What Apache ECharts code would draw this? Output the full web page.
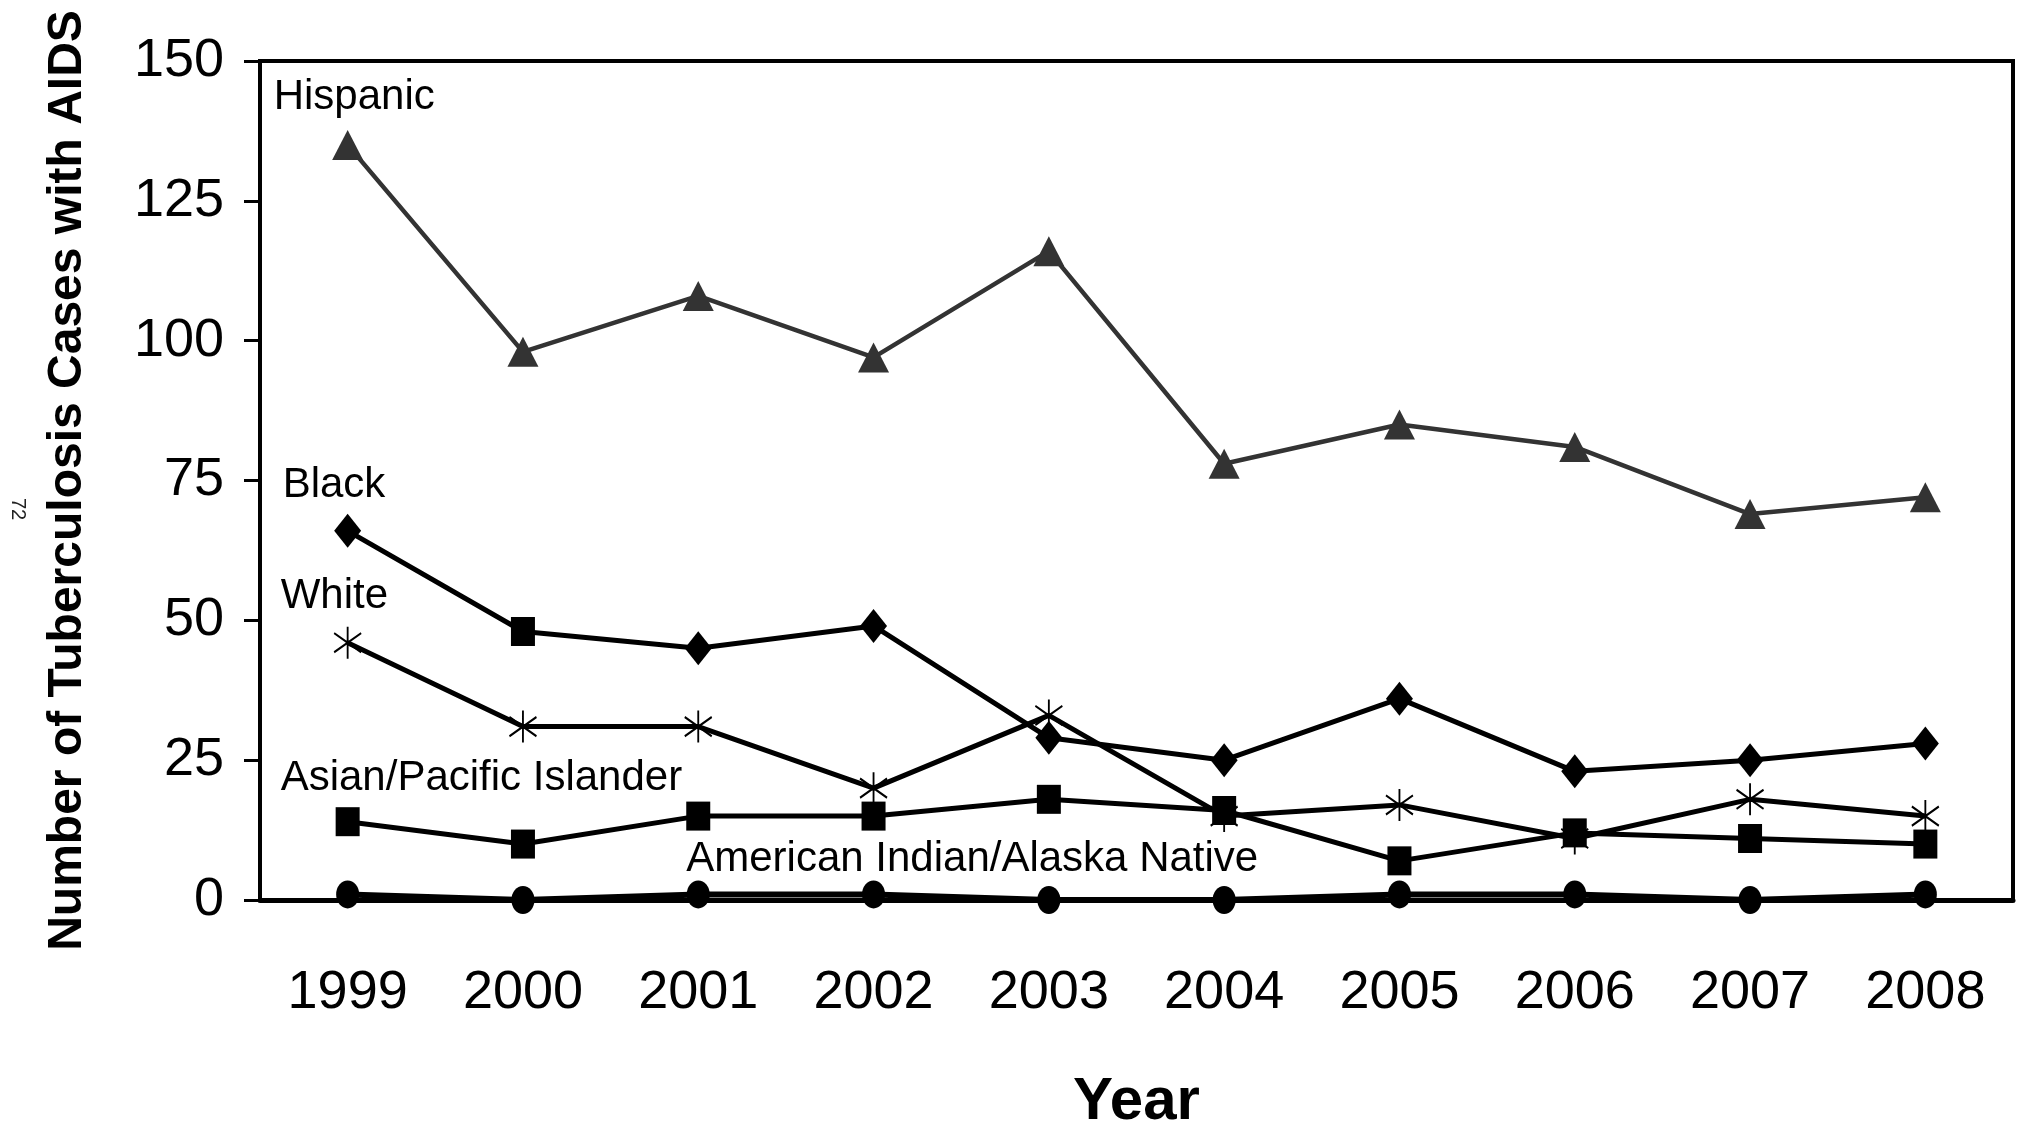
<!DOCTYPE html>
<html>
<head>
<meta charset="utf-8">
<script src="https://cdn.jsdelivr.net/npm/echarts@6/dist/echarts.min.js"></script>
<style>
html,body{margin:0;padding:0;background:#fff;}
#c{width:2022px;height:1124px;}
</style>
</head>
<body>
<div id="c"></div>
<script>
const years = ['1999','2000','2001','2002','2003','2004','2005','2006','2007','2008'];
const hispanic = [135, 98, 108, 97, 116, 78, 85, 81, 69, 72];
const black = [66, 48, 45, 49, 29, 25, 36, 23, 25, 28];
const white = [46, 31, 31, 20, 33, 15, 17, 11, 18, 15];
const asian = [14, 10, 15, 15, 18, 16, 7, 12, 11, 10];
const aian = [1, 0, 1, 1, 0, 0, 1, 1, 0, 1];
const seriesNames = ['Hispanic','Black','White','Asian/Pacific Islander','American Indian/Alaska Native'];
const yMin = 0, yMax = 150, yStep = 25;
const pageNumber = '72';

const SANS = "'Liberation Sans',Arial,sans-serif";
const asterisk = 'path://M5,0L5,10M0,2L10,8M0,8L10,2';

const chart = echarts.init(document.getElementById('c'), null, {renderer:'canvas'});

function lineSeries(name, data, symbol, size, color, width, extra) {
  return Object.assign({
    name: name,
    type: 'line',
    data: data,
    symbol: symbol,
    symbolSize: size,
    showAllSymbol: true,
    lineStyle: {color: color, width: width},
    itemStyle: {color: color},
    emphasis: {disabled: true},
    z: 3
  }, extra || {});
}

const blackData = black.map((v, i) => i === 1 ? {value: v, symbol: 'rect', symbolSize: [24, 29]} : v);

const option = {
  animation: false,
  backgroundColor: '#ffffff',
  grid: {left: 260, right: 9, top: 61, bottom: 224, outerBoundsMode: 'none', containLabel: false,
         show: true, borderColor: '#000', borderWidth: 4, backgroundColor: 'transparent'},
  xAxis: {
    type: 'category',
    data: years,
    boundaryGap: true,
    name: 'Year',
    nameLocation: 'middle',
    nameGap: 172,
    nameTextStyle: {fontFamily: SANS, fontWeight: 'bold', fontSize: 60, color: '#000'},
    axisLine: {lineStyle: {color: '#000', width: 5}},
    axisTick: {show: false},
    axisLabel: {fontFamily: SANS, fontSize: 54, color: '#000', margin: 66}
  },
  yAxis: {
    type: 'value',
    min: yMin, max: yMax, interval: yStep,
    name: 'Number of Tuberculosis Cases with AIDS',
    nameLocation: 'middle',
    nameGap: 168,
    nameTextStyle: {fontFamily: SANS, fontWeight: 'bold', fontSize: 48, color: '#000'},
    axisLine: {show: true, lineStyle: {color: '#000', width: 4}},
    axisTick: {show: true, inside: false, length: 16, lineStyle: {color: '#000', width: 3}},
    axisLabel: {fontFamily: SANS, fontSize: 54, color: '#000', margin: 36},
    splitLine: {show: false}
  },
  series: [
    lineSeries(seriesNames[0], hispanic, 'triangle', [31, 30], '#333333', 4.5),
    lineSeries(seriesNames[1], blackData, 'diamond', [27, 34], '#000000', 5),
    lineSeries(seriesNames[2], white, asterisk, [27, 32], '#000000', 5, {itemStyle: {color: '#000', borderColor: '#000', borderWidth: 2}}),
    lineSeries(seriesNames[3], asian, 'rect', [24, 29], '#000000', 5),
    lineSeries(seriesNames[4], aian, 'circle', [23, 28], '#000000', 6)
  ]
};
chart.setOption(option);

// series name labels placed relative to data points via the chart's own scales
const labelSpecs = [
  {s: 0, i: 0, v: hispanic[0], dx: -74, dy: -47},
  {s: 1, i: 0, v: black[0], dx: -65, dy: -45},
  {s: 2, i: 0, v: white[0], dx: -67, dy: -46},
  {s: 3, i: 0, v: asian[0], dx: -67, dy: -43},
  {s: 4, i: 2, v: aian[2], dx: -12, dy: -35}
];
const graphics = labelSpecs.map(sp => {
  const p = chart.convertToPixel({seriesIndex: sp.s}, [sp.i, sp.v]);
  return {
    type: 'text', x: p[0] + sp.dx, y: p[1] + sp.dy, z: 10,
    style: {text: seriesNames[sp.s], fontFamily: SANS, fontSize: 42, fill: '#000', textAlign: 'left', textVerticalAlign: 'middle'}
  };
});
graphics.push({
  type: 'text', x: 18, y: 509, rotation: -Math.PI / 2, z: 10,
  style: {text: pageNumber, fontFamily: SANS, fontSize: 20, fill: '#222', textAlign: 'center', textVerticalAlign: 'middle'}
});
chart.setOption({graphic: graphics});
</script>
</body>
</html>
